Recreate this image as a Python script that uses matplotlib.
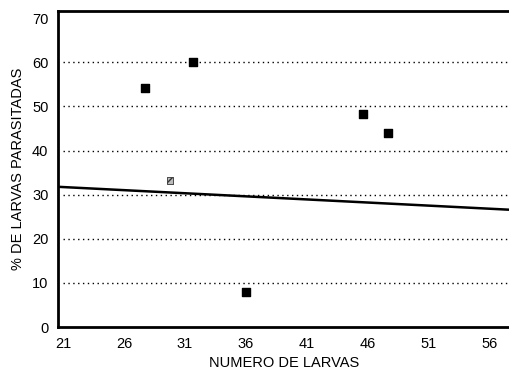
import matplotlib
matplotlib.use("Agg")
import matplotlib.pyplot as plt

plt.rcParams['font.family'] = ['Liberation Sans', 'DejaVu Sans']

# puntos (numero de larvas, % parasitadas)
larvas = [27.7, 31.7, 36.0, 45.6, 47.7]
parasit = [54.1, 60.0, 8.0, 48.4, 43.9]
# punto gris
larvas_g = [29.8]
parasit_g = [33.2]
# recta de regresion
recta_x = [20.6, 57.7]
recta_y = [31.8, 26.6]

xticks = [21, 26, 31, 36, 41, 46, 51, 56]
yticks = [0, 10, 20, 30, 40, 50, 60, 70]

fig = plt.figure(figsize=(5.1, 3.73), dpi=100)
ax = fig.add_axes([0.114, 0.123, 0.886, 0.847])

for g in yticks[1:-1]:
    ax.axhline(g, xmin=0.01, color='black', lw=1.0, ls=(0, (1, 2.5)), zorder=1)

ax.plot(recta_x, recta_y, color='black', lw=1.8, zorder=2)
ax.scatter(larvas, parasit, marker='s', s=28, color='black', zorder=3)
ax.scatter(larvas_g, parasit_g, marker='s', s=22, facecolor='#bbbbbb',
           edgecolor='#333333', lw=0.6, hatch='////', zorder=3)

ax.set_xlim(20.6, 57.7)
ax.set_ylim(0, 71.6)
ax.set_xticks(xticks)
ax.set_yticks(yticks)
ax.tick_params(length=0, labelsize=10.5, pad=7)
ax.tick_params(axis='x', pad=7)

for s in ['left', 'top', 'bottom']:
    ax.spines[s].set_linewidth(2)
ax.spines['right'].set_visible(False)

ax.set_xlabel('NUMERO DE LARVAS', fontsize=10.5, labelpad=4)
ax.set_ylabel('% DE LARVAS PARASITADAS', fontsize=10.5, labelpad=5)

fig.savefig('out.png', dpi=100)
